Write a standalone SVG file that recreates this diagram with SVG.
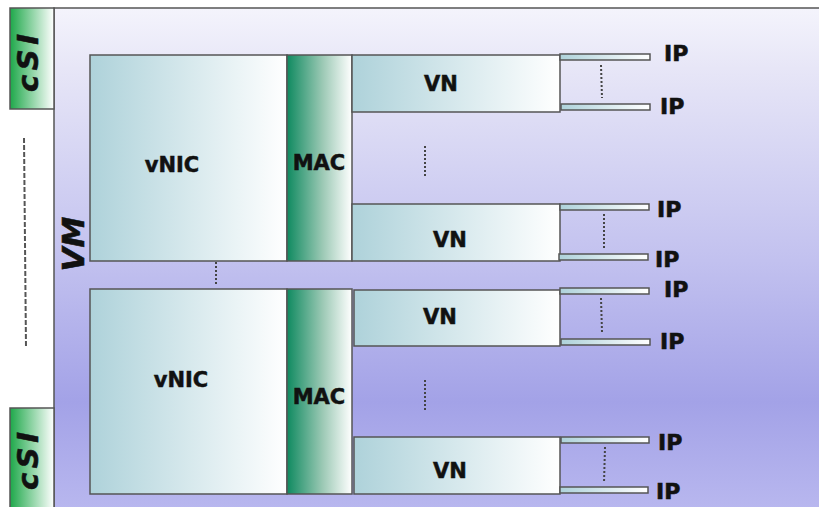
<svg xmlns="http://www.w3.org/2000/svg" width="819" height="507" viewBox="0 0 819 507">
<defs>
<linearGradient id="vm" x1="0" y1="0" x2="0" y2="1">
<stop offset="0" stop-color="#f4f4fc"/>
<stop offset="0.12" stop-color="#e7e6f7"/>
<stop offset="0.5" stop-color="#c2c1ef"/>
<stop offset="0.78" stop-color="#a3a2e7"/>
<stop offset="1" stop-color="#b9b8ef"/>
</linearGradient>
<linearGradient id="teal" x1="0" y1="0" x2="1" y2="0">
<stop offset="0" stop-color="#aed2da"/>
<stop offset="1" stop-color="#ffffff"/>
</linearGradient>
<linearGradient id="mac" x1="0" y1="0" x2="1" y2="0">
<stop offset="0" stop-color="#0f8a60"/>
<stop offset="0.55" stop-color="#9cc9b5"/>
<stop offset="1" stop-color="#ffffff"/>
</linearGradient>
<linearGradient id="csi" x1="0" y1="0" x2="1" y2="0">
<stop offset="0" stop-color="#1ea84a"/>
<stop offset="1" stop-color="#ffffff"/>
</linearGradient>
</defs>
<style>
.box{stroke:#555;stroke-width:1.5}
.t{font-family:"DejaVu Sans",Verdana,sans-serif;font-weight:bold;font-size:21px;fill:#111;stroke:#111;stroke-width:0.5;text-anchor:middle}
.ip{font-family:"DejaVu Sans",Verdana,sans-serif;font-weight:bold;font-size:22px;fill:#111;stroke:#111;stroke-width:0.6}
.big{font-family:"DejaVu Sans",Verdana,sans-serif;font-weight:bold;font-style:italic;fill:#111;stroke:#111;stroke-width:0.6;text-anchor:middle}
.dot{stroke:#444;stroke-width:2;stroke-dasharray:2 2;fill:none}
</style>
<rect width="819" height="507" fill="#ffffff"/>
<g id="vm-panel">
<rect x="54" y="8" width="770" height="505" fill="url(#vm)" class="box"/>
<text class="big" font-size="31" transform="translate(84,244) rotate(-90)">VM</text>
</g>
<g id="csi-top">
<rect x="10" y="8" width="44" height="101" fill="url(#csi)" class="box"/>
<text class="big" font-size="29" textLength="58" lengthAdjust="spacing" transform="translate(38,63) rotate(-90)">cSI</text>
</g>
<g id="csi-bottom">
<rect x="10" y="408" width="44" height="105" fill="url(#csi)" class="box"/>
<text class="big" font-size="29" textLength="58" lengthAdjust="spacing" transform="translate(38,461) rotate(-90)">cSI</text>
</g>
<g id="vnic1">
<rect x="90" y="55" width="197" height="206" fill="url(#teal)" class="box"/>
<text class="t" x="172" y="172">vNIC</text>
</g>
<g id="mac1">
<rect x="287" y="55" width="65" height="206" fill="url(#mac)" class="box"/>
<text class="t" x="319" y="170">MAC</text>
</g>
<g id="vn1">
<rect x="352" y="55" width="208" height="57" fill="url(#teal)" class="box"/>
<text class="t" x="441" y="91">VN</text>
</g>
<g id="vn2">
<rect x="352" y="204" width="208" height="57" fill="url(#teal)" class="box"/>
<text class="t" x="450" y="247">VN</text>
</g>
<g id="vnic2">
<rect x="90" y="289" width="197" height="205" fill="url(#teal)" class="box"/>
<text class="t" x="181" y="387">vNIC</text>
</g>
<g id="mac2">
<rect x="287" y="289" width="65" height="205" fill="url(#mac)" class="box"/>
<text class="t" x="319" y="404">MAC</text>
</g>
<g id="vn3">
<rect x="354" y="290" width="206" height="56" fill="url(#teal)" class="box"/>
<text class="t" x="440" y="324">VN</text>
</g>
<g id="vn4">
<rect x="354" y="437" width="206" height="57" fill="url(#teal)" class="box"/>
<text class="t" x="450" y="478">VN</text>
</g>
<g id="ip1"><rect x="560" y="54" width="90" height="6" fill="url(#teal)" class="box"/><text class="ip" x="664" y="61">IP</text></g>
<g id="ip2"><rect x="561" y="104" width="89" height="6" fill="url(#teal)" class="box"/><text class="ip" x="660" y="114">IP</text></g>
<g id="ip3"><rect x="560" y="204" width="89" height="6" fill="url(#teal)" class="box"/><text class="ip" x="657" y="217">IP</text></g>
<g id="ip4"><rect x="559" y="254" width="89" height="6" fill="url(#teal)" class="box"/><text class="ip" x="655" y="267">IP</text></g>
<g id="ip5"><rect x="560" y="288" width="89" height="6" fill="url(#teal)" class="box"/><text class="ip" x="664" y="297">IP</text></g>
<g id="ip6"><rect x="561" y="339" width="89" height="6" fill="url(#teal)" class="box"/><text class="ip" x="660" y="349">IP</text></g>
<g id="ip7"><rect x="561" y="437" width="88" height="6" fill="url(#teal)" class="box"/><text class="ip" x="658" y="450">IP</text></g>
<g id="ip8"><rect x="560" y="487" width="88" height="6" fill="url(#teal)" class="box"/><text class="ip" x="656" y="499">IP</text></g>
<g id="connectors">
<line class="dot" x1="601" y1="65" x2="602" y2="98"/>
<line class="dot" x1="604" y1="214" x2="604" y2="250"/>
<line class="dot" x1="601" y1="298" x2="602" y2="332"/>
<line class="dot" x1="605" y1="447" x2="604" y2="483"/>
<line class="dot" x1="425" y1="146" x2="425" y2="178"/>
<line class="dot" x1="425" y1="380" x2="425" y2="412"/>
<line class="dot" x1="216" y1="262" x2="216" y2="284"/>
<line x1="24" y1="138" x2="26" y2="348" stroke="#555" stroke-width="2" stroke-dasharray="5 2"/>
</g>
</svg>
